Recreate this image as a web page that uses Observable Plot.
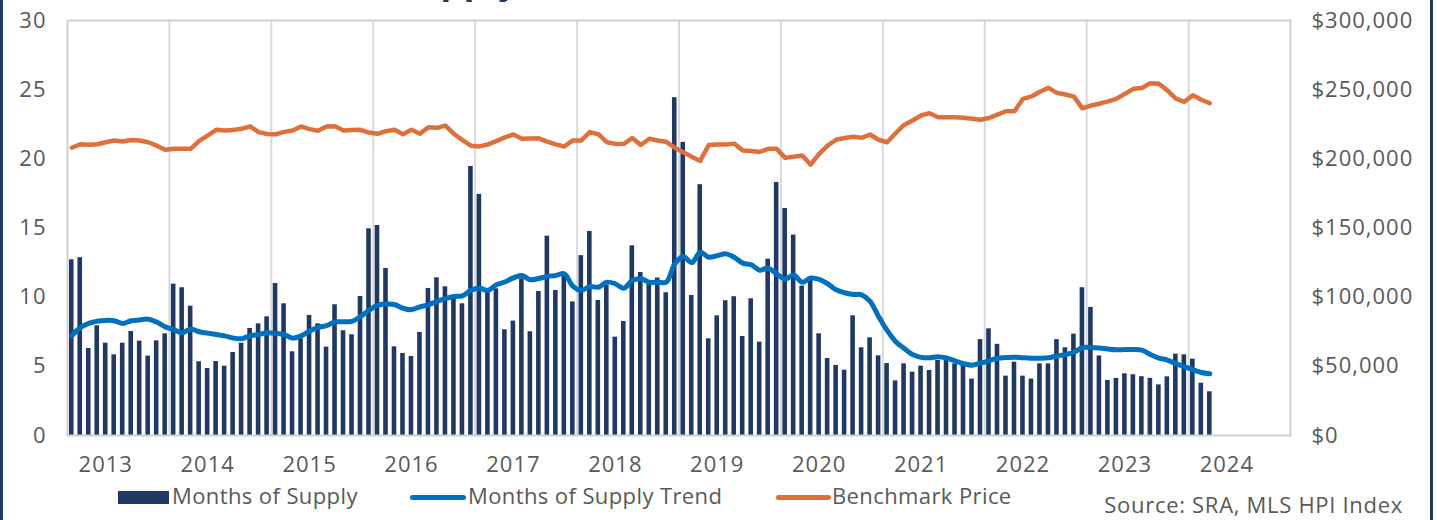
<!DOCTYPE html>
<html>
<head>
<meta charset="utf-8">
<script src="https://cdn.jsdelivr.net/npm/d3@7"></script>
<script src="https://cdn.jsdelivr.net/npm/@observablehq/plot@0.6"></script>
<style>
  body { margin: 0; background: #fff; }
  #wrap { position: relative; width: 1437px; height: 520px; overflow: hidden;
          font-family: "Open Sans", "Liberation Sans", Arial, sans-serif; color: #595959; background: #fff; }
  #chart { position: absolute; left: 0; top: 0; }
  .border { position: absolute; top: 0; width: 3px; height: 520px; background: #1f3864; }
  .lg { position: absolute; font-size: 22px; line-height: 26px; height: 26px; white-space: nowrap; color: #595959; letter-spacing: 0.4px; }
  .sw { position: absolute; }
  #title { position: absolute; left: 0; top: 0; }
</style>
</head>
<body>
<div id="wrap">
  <div id="chart"></div>
  <svg id="title" width="1437" height="20"><text x="200" y="-6" font-family="Liberation Sans, Arial, sans-serif" font-weight="bold" font-size="38" fill="#1f3864">Months of Supply</text></svg>
  <div class="sw" style="left:118px;top:491px;width:51px;height:13px;background:#1f3864"></div>
  <div class="lg" style="left:172px;top:482px">Months of Supply</div>
  <div class="sw" style="left:410px;top:495px;width:56px;height:5px;border-radius:3px;background:#0070c0"></div>
  <div class="lg" style="left:468px;top:482px">Months of Supply Trend</div>
  <div class="sw" style="left:776px;top:495px;width:55px;height:5px;border-radius:3px;background:#e0703a"></div>
  <div class="lg" style="left:832px;top:482px">Benchmark Price</div>
  <div class="lg" style="right:34px;top:491px;letter-spacing:0.7px">Source: SRA, MLS HPI Index</div>
  <div class="border" style="left:0"></div>
  <div class="border" style="left:1430px"></div>
</div>
<script>
// Monthly data, Sep 2012 .. Nov 2023
const startYear = 2012, startMonth = 9; // September 2012
const supply = [
  12.7,12.85,6.29,7.93,6.67,5.83,6.67,7.52,6.82,5.74,6.84,7.35,
  10.94,10.68,9.35,5.33,4.84,5.35,5.01,6.0,6.67,7.74,8.07,8.58,
  10.99,9.52,6.05,6.99,8.68,8.07,6.39,9.45,7.57,7.28,10.05,14.94,
  15.18,12.07,6.41,5.93,5.71,7.45,10.63,11.4,10.75,10.1,9.52,19.45,
  17.43,10.48,10.6,7.64,8.27,11.33,7.5,10.41,14.41,10.48,11.5,9.66,
  13.0,14.75,9.76,10.85,7.11,8.24,13.71,11.78,11.2,11.38,10.32,24.42,
  21.19,10.12,18.13,6.99,8.65,9.74,10.03,7.16,9.88,6.75,12.75,18.29,
  16.41,14.49,10.8,11.2,7.35,5.57,5.06,4.72,8.65,6.34,7.06,5.76,
  5.2,3.95,5.18,4.58,5.01,4.7,5.42,5.42,5.18,5.06,4.08,6.93,
  7.71,6.59,4.29,5.3,4.29,4.08,5.18,5.18,6.93,6.34,7.33,10.68,
  9.26,5.75,3.98,4.13,4.46,4.39,4.25,4.13,3.66,4.24,5.88,5.83,
  5.52,3.78,3.16
];
const trend = [
  7.2,7.8,8.1,8.27,8.32,8.3,8.1,8.3,8.35,8.41,8.2,7.85,
  7.65,7.42,7.7,7.5,7.4,7.3,7.2,7.05,7.0,7.2,7.3,7.42,
  7.38,7.3,7.04,7.2,7.55,7.8,7.95,8.2,8.22,8.25,8.6,9.05,
  9.4,9.5,9.47,9.2,9.1,9.3,9.45,9.7,9.9,10.05,10.1,10.5,
  10.65,10.48,10.9,11.1,11.4,11.57,11.26,11.35,11.5,11.57,11.69,10.8,
  10.48,10.77,10.72,11.08,10.97,10.65,11.2,11.33,11.08,11.08,11.08,12.4,
  12.94,12.5,13.25,12.89,13.0,13.13,12.89,12.46,12.34,11.95,12.1,11.69,
  11.3,11.6,11.08,11.38,11.28,10.97,10.53,10.32,10.2,10.17,9.7,8.6,
  7.6,6.8,6.3,5.85,5.65,5.62,5.7,5.6,5.4,5.2,5.08,5.23,
  5.4,5.59,5.63,5.66,5.62,5.59,5.59,5.62,5.75,5.85,6.02,6.35,
  6.36,6.32,6.25,6.2,6.21,6.22,6.17,5.85,5.6,5.45,5.2,4.98,
  4.75,4.55,4.46
];
const price = [
  208000,210500,210200,210500,212000,213200,212500,213600,213200,212000,209500,206500,
  207300,207300,207200,213000,216800,221000,220500,220800,221700,223500,219300,218000,
  217700,219500,220500,223400,221500,220300,223300,223500,220500,220800,221000,219000,
  218100,220000,221000,217800,221000,218100,222900,222400,224000,218000,213500,209500,
  209000,210400,212800,215500,217600,214500,214700,214800,212500,210500,208900,213300,
  213300,219300,217800,212000,210800,210900,215000,210000,214500,213200,212300,208000,
  204800,201500,198500,210000,210300,210300,211000,206000,205700,205000,207200,207200,
  200700,201500,202400,195800,203600,209500,213800,215000,216000,215200,217600,213800,
  212000,218500,224500,227700,231300,233000,230100,230100,230100,229700,229000,228200,
  229500,232000,234400,234400,243400,245100,248500,251300,247700,246500,245000,236500,
  238500,239800,241500,243400,247000,250600,251200,254700,254200,249500,243500,241200,
  246000,242700,240200
];
const yearLabels = ["2013","2014","2015","2016","2017","2018","2019","2020","2021","2022","2023","2024"];
const leftTicks = [0, 5, 10, 15, 20, 25, 30];
const rightTicks = [0, 50000, 100000, 150000, 200000, 250000, 300000];

const ratio = 10000; // right axis ($) per left-axis unit
const data = supply.map((v, i) => ({i, supply: v, trend: trend[i], price: price[i] / ratio}));
const janOffset = (12 - startMonth + 1) % 12; // index of first January
const yearIdx = yearLabels.map((_, k) => janOffset + 12 * k);
const nBlocks = yearLabels.length;
const gridIdx = d3.range(1, nBlocks).map(k => -0.5 + 12 * k);
const font = "Open Sans, Liberation Sans, Arial, sans-serif";

const chart = Plot.plot({
  width: 1437,
  height: 480,
  marginTop: 20,
  marginBottom: 45,
  marginLeft: 67,
  marginRight: 147,
  style: {fontFamily: font, fontSize: "22px", color: "#595959", background: "transparent", overflow: "visible", letterSpacing: "1px"},
  x: {type: "linear", domain: [-0.5, 12 * nBlocks - 0.5], axis: null},
  y: {domain: [0, 30], axis: null},
  marks: [
    Plot.ruleX(gridIdx, {stroke: "#d9d9d9", strokeWidth: 2}),
    Plot.rectY(data, {x1: d => d.i - 0.27, x2: d => d.i + 0.27, y1: 0, y2: "supply", fill: "#1f3864"}),
    Plot.line(data, {x: "i", y: "trend", stroke: "#0070c0", strokeWidth: 5, curve: "catmull-rom", strokeLinejoin: "round", strokeLinecap: "round"}),
    Plot.line(data, {x: "i", y: "price", stroke: "#e0703a", strokeWidth: 4.5, curve: "linear", strokeLinejoin: "round", strokeLinecap: "round"}),
    Plot.frame({stroke: "#d0d0d0", strokeWidth: 2}),
    Plot.axisY({anchor: "left", ticks: leftTicks, tickSize: 0, tickPadding: 21, label: null, fill: "#595959", fontSize: 22}),
    Plot.axisY({anchor: "right", ticks: rightTicks.map(d => d / ratio), tickSize: 0, tickPadding: 21, label: null,
      tickFormat: d => "$" + d3.format(",")(Math.round(d * ratio)), fill: "#595959", fontSize: 22}),
    Plot.axisX({ticks: yearIdx, tickSize: 0, tickPadding: 21, label: null, tickFormat: d => yearLabels[yearIdx.indexOf(d)], fill: "#595959", fontSize: 22})
  ]
});
document.getElementById("chart").appendChild(chart);
</script>
</body>
</html>
